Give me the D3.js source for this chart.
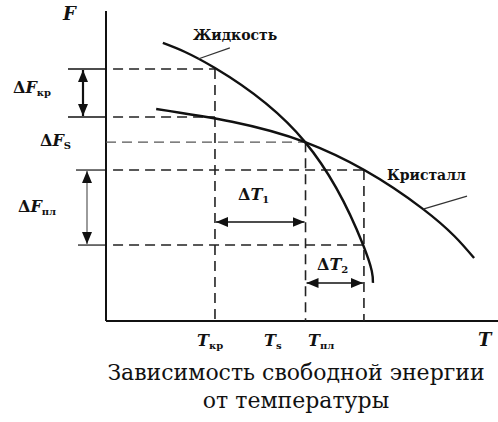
<!DOCTYPE html>
<html>
<head>
<meta charset="utf-8">
<script src="https://cdn.jsdelivr.net/npm/d3@7"></script>
<style>
  body { margin: 0; background: #fff; }
  svg text { font-family: "DejaVu Serif", serif; }
</style>
</head>
<body>
<div id="chart"></div>
<script>
// Chart data (abstract units, T and F both on 0..100)
const liquid = [[14.5, 89.7], [27.8, 81.6], [50.8, 57.7], [65.6, 24.5], [68.1, 12.3]]
const crystal = [[12.8, 68.4], [50.8, 57.7], [80.9, 36.1], [93.9, 20.3]]

// Key temperatures and energy levels
const tLevels = { kr: 27.8, s: 50.9, pl: 65.8 }
const fLevels = { krTop: 81.3, krBot: 65.8, s: 57.7, plTop: 48.7, plBot: 24.5 }

// Leader lines for curve names: [from, to]
const liquidLeader = [[23.5, 84.5], [31.6, 88.1]]
const crystalLeader = [[80.9, 36.1], [92.1, 40.3]]

const width = 498, height = 422

const x = d3.scaleLinear().domain([0, 100]).range([106, 498])
const y = d3.scaleLinear().domain([0, 100]).range([321, 11])

const svg = d3.select('#chart').append('svg')
  .attr('width', width)
  .attr('height', height)

// Arrow marker
svg.append('defs').append('marker')
  .attr('id', 'arrow')
  .attr('viewBox', '0 0 12 10')
  .attr('refX', 12)
  .attr('refY', 5)
  .attr('markerWidth', 12)
  .attr('markerHeight', 10)
  .attr('markerUnits', 'userSpaceOnUse')
  .attr('orient', 'auto-start-reverse')
  .append('path')
  .attr('d', 'M0,0 L12,5 L0,10 Z')
  .style('fill', '#111')

// Axes (no ticks)
svg.append('line')
  .attr('x1', x(0)).attr('x2', x(0))
  .attr('y1', y(100)).attr('y2', y(0))
  .style('stroke', '#111').style('stroke-width', 2)
svg.append('line')
  .attr('x1', x(0)).attr('x2', x(100))
  .attr('y1', y(0)).attr('y2', y(0))
  .style('stroke', '#111').style('stroke-width', 2)

// Dashed guides
const dash = (x1, y1, x2, y2, w, c) => {
  svg.append('line')
    .attr('x1', x1).attr('y1', y1).attr('x2', x2).attr('y2', y2)
    .style('stroke', c || '#222')
    .style('stroke-width', w || 1.6)
    .style('stroke-dasharray', '10,6')
}
const solid = (x1, y1, x2, y2, w) => {
  svg.append('line')
    .attr('x1', x1).attr('y1', y1).attr('x2', x2).attr('y2', y2)
    .style('stroke', '#111')
    .style('stroke-width', w || 1.5)
}

// horizontal guides
dash(x(1.8), y(fLevels.krTop), x(tLevels.kr), y(fLevels.krTop))
dash(x(1.8), y(fLevels.krBot), x(tLevels.kr), y(fLevels.krBot))
dash(x(0), y(fLevels.s), x(tLevels.s), y(fLevels.s), 1.3, '#555')
dash(x(1.8), y(fLevels.plTop), x(tLevels.pl), y(fLevels.plTop))
dash(x(1.8), y(fLevels.plBot), x(tLevels.pl), y(fLevels.plBot))

// vertical guides
dash(x(tLevels.kr), y(fLevels.krTop), x(tLevels.kr), y(0))
dash(x(tLevels.s), y(fLevels.s), x(tLevels.s), y(0))
dash(x(tLevels.pl), y(fLevels.plTop), x(tLevels.pl), y(0))

// short solid ticks left of axis
solid(68, y(fLevels.krTop), x(0), y(fLevels.krTop))
solid(68, y(fLevels.krBot), x(0), y(fLevels.krBot))
solid(76, y(fLevels.plTop), x(0), y(fLevels.plTop), 1.2)
solid(78, y(fLevels.plBot), x(0), y(fLevels.plBot), 1.2)

// dimension arrows
const arrow = (x1, y1, x2, y2, w, c) => {
  svg.append('line')
    .attr('x1', x1).attr('y1', y1).attr('x2', x2).attr('y2', y2)
    .style('stroke', c || '#111')
    .style('stroke-width', w || 1.5)
    .attr('marker-start', 'url(#arrow)')
    .attr('marker-end', 'url(#arrow)')
}
arrow(83, y(fLevels.krTop) + 1, 83, y(fLevels.krBot) - 1, 2.2)
arrow(87, y(fLevels.plTop) + 1, 87, y(fLevels.plBot) - 1, 1.3, '#666')
arrow(x(tLevels.kr) + 1, 222, x(tLevels.s) - 1, 222, 1.6)
arrow(x(tLevels.s) + 1, 283, x(tLevels.pl) - 1, 283, 1.6)

// curves
const line = d3.line()
  .x(d => x(d[0]))
  .y(d => y(d[1]))
  .curve(d3.curveNatural)

svg.append('path').datum(liquid)
  .attr('d', line)
  .style('fill', 'none').style('stroke', '#111').style('stroke-width', 2.4)
svg.append('path').datum(crystal)
  .attr('d', line)
  .style('fill', 'none').style('stroke', '#111').style('stroke-width', 2.4)

// leader lines
const leader = d3.line().x(d => x(d[0])).y(d => y(d[1]))
svg.append('path').datum(liquidLeader).attr('d', leader)
  .style('stroke', '#333').style('stroke-width', 1.2)
svg.append('path').datum(crystalLeader).attr('d', leader)
  .style('stroke', '#333').style('stroke-width', 1.2)

// labels
const label = (px, py, main, sub, opts) => {
  opts = opts || {}
  let t = svg.append('text')
    .attr('x', px).attr('y', py)
    .style('font-weight', 'bold')
    .style('fill', '#111')
    .style('font-size', (opts.size || 16) + 'px')
  if (opts.delta) t.append('tspan').text('Δ')
  t.append('tspan').style('font-style', 'italic').text(main)
  if (sub) {
    t.append('tspan').style('font-size', '10px').attr('dy', 3).text(sub)
  }
  return t
}

label(63, 20, 'F', null, { size: 18 })
label(13, 93, 'F', 'кр', { delta: true })
label(40, 146, 'F', 'S', { delta: true })
label(18, 212, 'F', 'пл', { delta: true })
label(238, 200, 'T', '1', { delta: true })
label(317, 270, 'T', '2', { delta: true })
label(197, 346, 'T', 'кр')
label(264, 346, 'T', 's')
label(308, 346, 'T', 'пл')
label(478, 346, 'T', null, { size: 18 })

const name = (px, py, txt) => {
  svg.append('text')
    .attr('x', px).attr('y', py)
    .style('font-weight', 'bold')
    .style('font-size', '14px')
    .style('fill', '#111')
    .text(txt)
}
name(193, 40, 'Жидкость')
name(387, 180, 'Кристалл')

// caption
const caption = (py, txt) => {
  svg.append('text')
    .attr('x', 296).attr('y', py)
    .attr('text-anchor', 'middle')
    .style('font-size', '22px')
    .style('fill', '#111')
    .text(txt)
}
caption(380, 'Зависимость свободной энергии')
caption(408, 'от температуры')
</script>
</body>
</html>
